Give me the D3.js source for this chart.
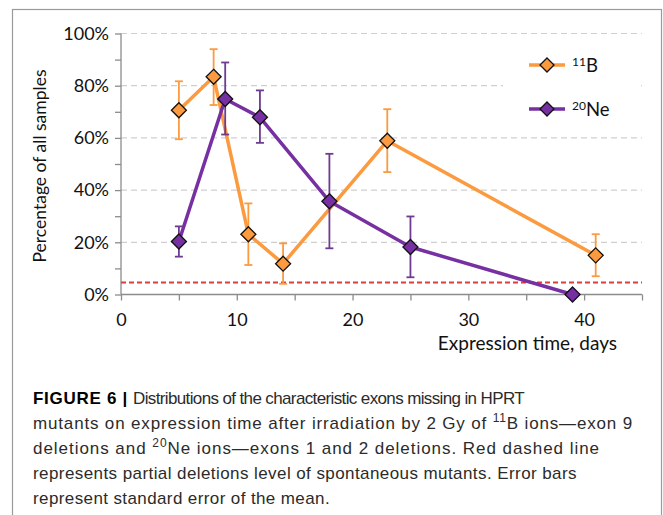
<!DOCTYPE html>
<html><head><meta charset="utf-8">
<script src="https://cdn.jsdelivr.net/npm/d3@7"></script>
<style>body{margin:0;background:#fff}svg{display:block}</style>
</head><body>
<svg id="c" width="663" height="515"></svg>
<script>
const bDays = [5, 8, 11, 14, 23, 41];
const bValues = [70.6, 83.4, 23.1, 11.8, 58.9, 15.0];
const bErrLow = [59.5, 72.6, 11.3, 4.1, 46.9, 7.0];
const bErrHigh = [81.7, 94.0, 34.9, 19.6, 71.0, 23.1];
const neDays = [5, 9, 12, 18, 25, 39];
const neValues = [20.3, 74.9, 67.9, 35.7, 18.2, 0];
const neErrLow = [14.5, 61.3, 58.1, 17.7, 6.6, null];
const neErrHigh = [26.1, 88.9, 78.2, 53.9, 29.9, null];
const spontaneousLevel = 4.6;
const yTickLabels = [0, 20, 40, 60, 80, 100];
const xTickLabels = [0, 10, 20, 30, 40];
const seriesNames = ["11", "B", "20", "Ne"];

const svg = d3.select("#c");
const x = d3.scaleLinear().domain([0, 45]).range([121, 642]);
const y = d3.scaleLinear().domain([0, 100]).range([294.5, 33.5]);
const ORANGE = "#FB9A3E", PURPLE = "#7630A2", PURPLE_ERR = "#6E3B90";
const font = "Lato, 'Open Sans', sans-serif";

// figure border
svg.append("rect").attr("x", 12.5).attr("y", 9.5).attr("width", 649).attr("height", 520)
  .attr("fill", "none").attr("stroke", "#9a9a9a").attr("stroke-width", 1.2);

// gridlines
svg.append("g").selectAll("line").data(yTickLabels.filter(d => d > 0)).join("line")
  .attr("x1", x(0)).attr("x2", x(45)).attr("y1", d => y(d)).attr("y2", d => y(d))
  .attr("stroke", "#cfcfcf").attr("stroke-width", 1.2).attr("stroke-dasharray", "6,4");

// legend background (interrupts gridline)
svg.append("rect").attr("x", 503).attr("y", 44).attr("width", 137).attr("height", 84).attr("fill", "#fff");

// axes
const yAxis = d3.axisLeft(y).tickValues(d3.range(0, 101, 10)).tickSize(6).tickFormat(d => yTickLabels.includes(d) ? d + "%" : "");
const gy = svg.append("g").attr("transform", `translate(${x(0)},0)`).call(yAxis);
const xAxis = d3.axisBottom(x).tickValues(d3.range(0, 46, 5)).tickSize(6).tickFormat(d => xTickLabels.includes(d) ? d : "");
const gx = svg.append("g").attr("transform", `translate(0,${y(0)})`).call(xAxis);
[gx, gy].forEach(g => {
  g.selectAll("path,line").attr("stroke", "#8c8c8c").attr("stroke-width", 1.3);
  g.selectAll("text").attr("font-family", font).attr("font-size", 18).attr("fill", "#111");
});
gy.select(".domain").attr("d", `M0,${y(0)}V${y(100)}`);
gx.select(".domain").attr("d", `M${x(0)},0H${x(45)}`);
gy.selectAll("text").attr("x", -12);
gx.selectAll("text").attr("y", 19);

// red dashed line
svg.append("line").attr("x1", x(0)).attr("x2", x(45)).attr("y1", y(spontaneousLevel)).attr("y2", y(spontaneousLevel))
  .attr("stroke", "#E23B3B").attr("stroke-width", 1.8).attr("stroke-dasharray", "5,3");

// axis titles
svg.append("text").attr("transform", `translate(46,${(y(0)+y(100))/2 + 2}) rotate(-90)`)
  .attr("text-anchor", "middle").attr("font-family", font).attr("font-size", 17.5).attr("fill", "#111")
  .text("Percentage of all samples");
svg.append("text").attr("x", 617).attr("y", 350).attr("text-anchor", "end")
  .attr("font-family", font).attr("font-size", 19).attr("fill", "#111").text("Expression time, days");

function drawSeries(days, vals, lo, hi, color, errColor) {
  const g = svg.append("g");
  const idx = d3.range(days.length);
  g.append("path").datum(idx).attr("fill", "none").attr("stroke", color).attr("stroke-width", 3.5)
    .attr("stroke-linejoin", "round")
    .attr("d", d3.line().x(i => x(days[i])).y(i => y(vals[i])));
  const e = g.selectAll("g.err").data(idx.filter(i => lo[i] != null)).join("g");
  e.append("line").attr("x1", i => x(days[i])).attr("x2", i => x(days[i]))
    .attr("y1", i => y(lo[i])).attr("y2", i => y(hi[i])).attr("stroke", errColor).attr("stroke-width", 1.8);
  e.append("line").attr("x1", i => x(days[i]) - 4).attr("x2", i => x(days[i]) + 4)
    .attr("y1", i => y(lo[i])).attr("y2", i => y(lo[i])).attr("stroke", errColor).attr("stroke-width", 1.8);
  e.append("line").attr("x1", i => x(days[i]) - 4).attr("x2", i => x(days[i]) + 4)
    .attr("y1", i => y(hi[i])).attr("y2", i => y(hi[i])).attr("stroke", errColor).attr("stroke-width", 1.8);
  return g;
}
function markers(g, days, vals, color) {
  g.selectAll("path.m").data(d3.range(days.length)).join("path").attr("class", "m")
    .attr("d", i => { const cx = x(days[i]), cy = y(vals[i]), r = 7.5; return `M${cx},${cy-r}L${cx+r},${cy}L${cx},${cy+r}L${cx-r},${cy}Z`; })
    .attr("fill", color).attr("stroke", "#111").attr("stroke-width", 1.3);
}
const gB = drawSeries(bDays, bValues, bErrLow, bErrHigh, ORANGE, ORANGE);
const gN = drawSeries(neDays, neValues, neErrLow, neErrHigh, PURPLE, PURPLE_ERR);
markers(gB, bDays, bValues, ORANGE);
markers(gN, neDays, neValues, PURPLE);

// legend
const legend = [{sup: seriesNames[0], name: seriesNames[1], color: ORANGE, y: 65},
                {sup: seriesNames[2], name: seriesNames[3], color: PURPLE, y: 109}];
const lg = svg.append("g").selectAll("g").data(legend).join("g");
lg.append("line").attr("x1", 529).attr("x2", 565).attr("y1", d => d.y).attr("y2", d => d.y)
  .attr("stroke", d => d.color).attr("stroke-width", 3.5);
lg.append("path").attr("d", d => `M547,${d.y-7}L554,${d.y}L547,${d.y+7}L540,${d.y}Z`)
  .attr("fill", d => d.color).attr("stroke", "#111").attr("stroke-width", 1.3);
const lt = lg.append("text").attr("x", 572).attr("y", d => d.y + 7).attr("font-family", font).attr("font-size", 18.5).attr("fill", "#111");
lt.append("tspan").attr("font-size", 12).attr("dy", -6.5).text(d => d.sup);
lt.append("tspan").attr("dy", 6.5).text(d => d.name);

// caption
const capFont = "'Liberation Sans', Arial, sans-serif";
const cap = svg.append("g").attr("font-family", capFont).attr("font-size", 17).attr("fill", "#2b2b2b");
const lines = [
  {x: 33, w: 95, bold: true, parts: [["", "FIGURE 6 |"]]},
  {x: 133, w: 391, parts: [["", "Distributions of the characteristic exons missing in HPRT"]]},
  {x: 33, w: 600, parts: [["", "mutants on expression time after irradiation by 2 Gy of "], ["s", "11"], ["", "B ions\u2014exon 9"]]},
  {x: 33, w: 567, parts: [["", "deletions and "], ["s", "20"], ["", "Ne ions\u2014exons 1 and 2 deletions. Red dashed line"]]},
  {x: 33, w: 544, parts: [["", "represents partial deletions level of spontaneous mutants. Error bars"]]},
  {x: 33, w: 297, parts: [["", "represent standard error of the mean."]]}
];
const rowY = [404, 404, 429, 454, 479, 504];
lines.forEach((ln, i) => {
  const t = cap.append("text").attr("x", ln.x).attr("y", rowY[i]);
  if (ln.bold) t.attr("font-weight", "bold").attr("fill", "#000");
  let raised = false;
  ln.parts.forEach(([k, s]) => {
    const ts = t.append("tspan").text(s);
    if (k === "s") { ts.attr("font-size", 12).attr("dy", -7); raised = true; }
    else if (raised) { ts.attr("dy", 7); raised = false; }
  });
  const natural = t.node().getComputedTextLength();
  const n = ln.parts.reduce((a, p) => a + p[1].length, 0);
  t.attr("letter-spacing", ((ln.w - natural) / n).toFixed(3));
});
</script>
</body></html>
